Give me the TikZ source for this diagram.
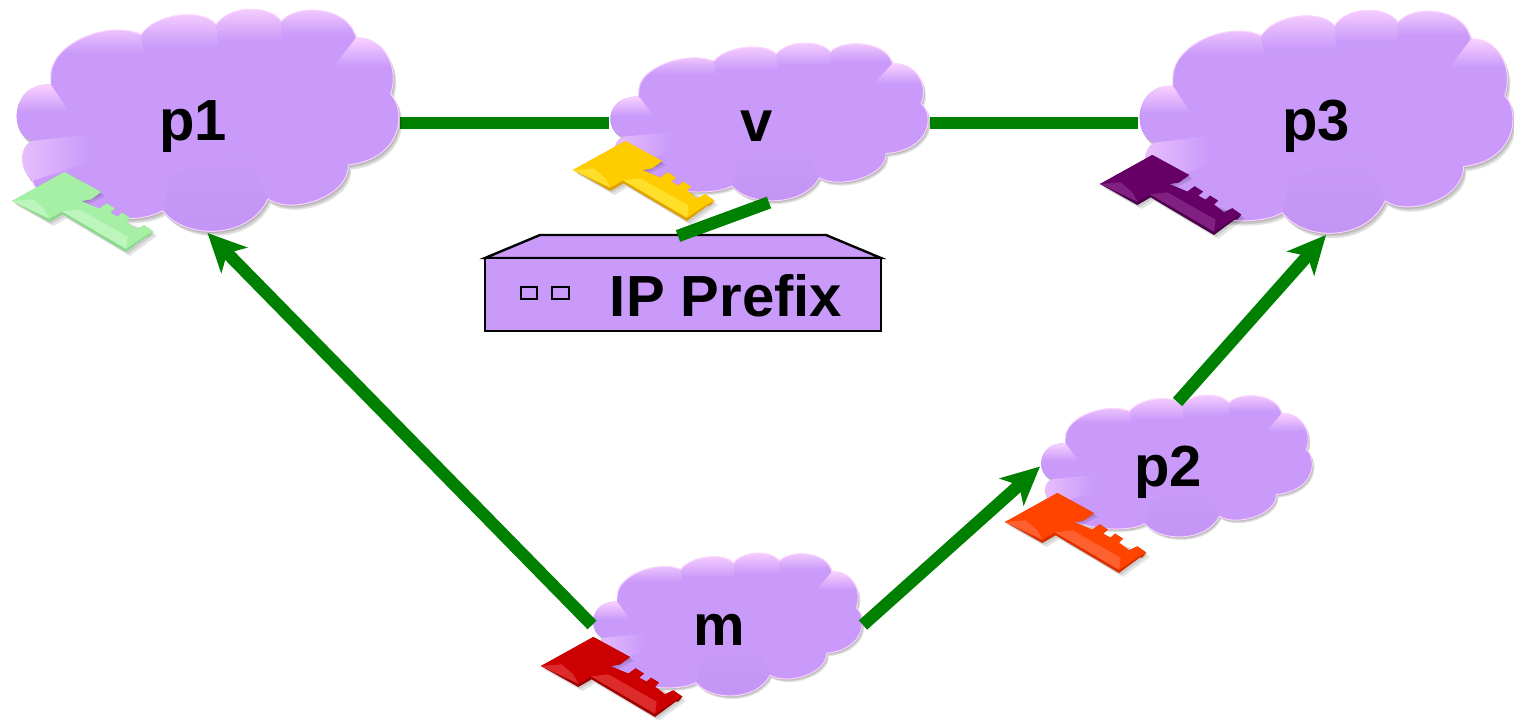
\documentclass[tikz,border=0pt]{standalone}
\usepackage{fontspec}
\setmainfont{Liberation Sans}
\usetikzlibrary{arrows.meta}
\definecolor{cloudbase}{HTML}{C99AFA}
\definecolor{clouddark}{HTML}{C294F4}
\definecolor{cloudhi}{HTML}{FBD4FF}
\definecolor{linkgreen}{HTML}{008000}
\definecolor{kgreen}{HTML}{A6F0A6}\definecolor{kgreenl}{HTML}{BCF6BC}\definecolor{kgreend}{HTML}{8CD88C}
\definecolor{kyellow}{HTML}{FFCC00}\definecolor{kyellowl}{HTML}{FFDF2A}\definecolor{kyellowd}{HTML}{E0A000}
\definecolor{kpurple}{HTML}{660066}\definecolor{kpurplel}{HTML}{802080}\definecolor{kpurpled}{HTML}{4A004A}
\definecolor{korange}{HTML}{FF4400}\definecolor{korangel}{HTML}{FF6030}\definecolor{koranged}{HTML}{D83000}
\definecolor{kred}{HTML}{CC0000}\definecolor{kredl}{HTML}{DD2A2A}\definecolor{kredd}{HTML}{A00000}
\tikzset{
  cloudbox/.style={inner sep=0pt,outer sep=0pt,rectangle},
  link/.style={draw=linkgreen,line width=6.2pt},
  arrowlink/.style={link,-{Stealth[length=19pt,width=18pt,inset=5pt]}},
  lobe/.style={top color=cloudhi,bottom color=cloudbase,middle color=cloudbase,draw=none},
  sidelobe/.style={left color=cloudhi!65!cloudbase,right color=cloudbase,draw=none},
  lowlobe/.style={top color=cloudbase,bottom color=clouddark,draw=none},
  rim/.style={draw=cloudhi,line width=.5pt},
  lab/.style={font=\bfseries\fontsize{29}{29}\selectfont,anchor=base,inner sep=0pt},
  boxface/.style={draw=black,line width=1.2pt,fill=cloudbase,line join=miter},
  led/.style={draw=black,line width=.8pt,fill=cloudbase},
}
\newcommand\cloudoutline{(100,425) .. controls (30,410) and (30,250) .. (155,255)
  -- (155,235) .. controls (150,130) and (330,60) .. (425,105)
  .. controls (470,40) and (610,25) .. (650,75)
  .. controls (690,15) and (810,15) .. (845,65)
  .. controls (890,10) and (1050,20) .. (1068,115)
  .. controls (1150,110) and (1200,200) .. (1172,285)
  .. controls (1220,330) and (1210,480) .. (1045,497)
  .. controls (1050,590) and (880,650) .. (805,600)
  .. controls (750,720) and (560,725) .. (490,635)
  .. controls (400,690) and (130,650) .. (100,545)
  .. controls (60,510) and (60,440) .. (100,425) -- cycle}
% #1,#2 top-left  #3,#4 bottom-right
\newcommand\drawcloud[4]{%
 \begin{scope}[shift={(#1,#2)},xscale={(#3-#1)/1152},yscale={(#4-#2)/674},shift={(-48,-28)}]
  \foreach \s in {3,6,9}{\fill[black,opacity=.11,shift={(\s,\s*1.6)}] \cloudoutline;}
  \fill[cloudbase] \cloudoutline;
  \path[lobe] (100,425) .. controls (30,410) and (30,250) .. (155,255) -- (225,360) -- (230,400) -- cycle;
  \path[lobe] (155,235) .. controls (150,130) and (330,60) .. (425,105) -- (455,260) -- (170,262) -- cycle;
  \path[lobe] (425,105) .. controls (470,40) and (610,25) .. (650,75) -- (668,230) -- (455,260) -- cycle;
  \path[lobe] (650,75) .. controls (690,15) and (810,15) .. (845,65) -- (850,200) -- (668,230) -- cycle;
  \path[lobe] (845,65) .. controls (890,10) and (1050,20) .. (1068,115) -- (1010,190) -- (850,200) -- cycle;
  \path[lobe] (1068,115) .. controls (1150,110) and (1200,200) .. (1172,285) -- (1010,290) -- (1010,190) -- cycle;
  \path[sidelobe] (100,545) .. controls (60,510) and (60,440) .. (100,425) -- (270,405) -- (270,490) -- cycle;
  \path[lowlobe] (490,635) .. controls (560,725) and (750,720) .. (805,600) -- (745,450) -- (515,530) -- cycle;
  \draw[rim] (1172,285) .. controls (1220,330) and (1210,480) .. (1045,497)
     (1045,497) .. controls (1050,590) and (880,650) .. (805,600)
     (805,600) .. controls (750,720) and (560,725) .. (490,635)
     (490,635) .. controls (400,690) and (130,650) .. (100,545);
  \draw[draw=cloudhi,line width=.5pt] (155,235) .. controls (150,130) and (330,60) .. (425,105)
     .. controls (470,40) and (610,25) .. (650,75)
     .. controls (690,15) and (810,15) .. (845,65)
     .. controls (890,10) and (1050,20) .. (1068,115)
     .. controls (1150,110) and (1200,200) .. (1172,285);
 \end{scope}}
% #1,#2 top-left  #3 colour family
\newcommand\drawkey[3]{%
 \begin{scope}[shift={(#1,#2)},scale=1/3,shift={(-38,-518)}]
  \foreach \s in {6,12}{\fill[black,opacity=.10,shift={(\s,\s)}]
    (38,605) -- (195,518) -- (305,578) -- (240,610) -- (462,697) -- (380,758) -- (190,645) -- (150,668) -- cycle;}
  % whole silhouette, dark side
  \fill[#3d] (38,605) -- (195,518) -- (305,578) -- (275,600) -- (245,605) -- (300,628) -- (322,612) -- (347,628) -- (332,640)
     -- (355,652) -- (368,640) -- (392,655) -- (380,667) -- (410,690) -- (435,678) -- (462,697) -- (450,712) -- (442,712) -- (380,758)
     -- (190,645) -- (150,668) -- cycle;
  % top faces
  \fill[#3] (38,605) -- (195,518) -- (305,578) -- (275,600) -- (245,605) -- (300,628) -- (322,612) -- (347,628) -- (332,640)
     -- (355,652) -- (368,640) -- (392,655) -- (380,667) -- (410,690) -- (435,678) -- (462,697) -- (440,708) -- (380,748)
     -- (188,636) -- (150,658) -- cycle;
  % bevel facets
  \fill[#3l] (38,605) -- (100,600) -- (135,630) -- (150,658) -- cycle;
  \fill[#3l] (188,636) -- (240,630) -- (385,712) -- (380,748) -- cycle;
 \end{scope}}
\begin{document}
\begin{tikzpicture}[x=.5pt,y=-.5pt]
\useasboundingbox (0,0) rectangle (1514,719);
% anchors of the clouds
\node[cloudbox,minimum width=192.5pt,minimum height=112pt] (p1) at (207.5,121) {};
\node[cloudbox,minimum width=160.5pt,minimum height=80pt] (v) at (769,122.5) {};
\node[cloudbox,minimum width=188pt,minimum height=112.5pt] (p3) at (1326,122.5) {};
\node[cloudbox,minimum width=136.5pt,minimum height=71.5pt] (p2) at (1176.5,466.5) {};
\node[cloudbox,minimum width=135.5pt,minimum height=72pt] (m) at (727.5,625) {};
\node[cloudbox,minimum width=198pt,minimum height=48pt] (ipp) at (683,283) {};
% connectors under the clouds
\draw[link] ([yshift=-1pt]p1.east) -- ([yshift=-.25pt]v.west);
\draw[link] ([yshift=-.25pt]v.east) -- ([yshift=-.25pt]p3.west);
% clouds
\drawcloud{15}{9}{400}{233}
\drawcloud{609}{43}{929}{202}
\drawcloud{1138}{10}{1514}{235}
\drawcloud{1040}{395}{1313}{538}
\drawcloud{592}{553}{863}{697}
% connectors over the clouds
\draw[arrowlink] (m.west) -- (p1.south);
\draw[arrowlink] (m.east) -- (p2.west);
\draw[arrowlink] ([shift={(.5pt,-3.5pt)}]p2.north) -- (p3.south);
% device
\path[boxface] (485,258) -- (540,235) -- (826,235) -- (881,258) -- cycle;
\path[boxface] (485,258) rectangle (881,331);
\draw[led] (521,287) rectangle (537,299);
\draw[led] (552,287) rectangle (569,299);
\draw[link] ([xshift=-2.5pt,yshift=-.5pt]ipp.north) -- (v.south);
% keys
\drawkey{12}{172}{kgreen}
\drawkey{573}{141}{kyellow}
\drawkey{1100}{155}{kpurple}
\drawkey{1005}{493}{korange}
\drawkey{541}{637}{kred}
% labels
\node[lab] (p1t) at (193,140) {p1};
\node[lab] (vt) at (757,141) {v};
\node[lab] (p3t) at (1316,140) {p3};
\node[lab] (p2t) at (1168,486) {p2};
\node[lab] (mt) at (719,645) {m};
\node[lab] (ippt) at (726,316) {IP Prefix};
\end{tikzpicture}
\end{document}
